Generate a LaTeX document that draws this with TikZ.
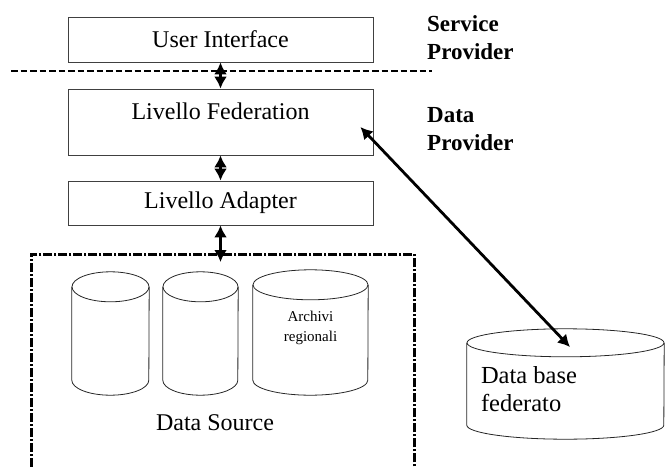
\documentclass[tikz,border=0pt]{standalone}
\usepackage{fontspec}
\setmainfont{Liberation Serif}
\usetikzlibrary{arrows.meta}
\usetikzlibrary{calc}

\newcommand{\drum}[6]{%
	\node[minimum width=#4pt, minimum height=#5pt, inner sep=0pt] (#1) at (#2,#3) {};
	\draw[drumline] ($(#1.north)+(0,#6)$) ellipse [x radius=0.5*#4pt, y radius=#6pt];
	\draw[drumline] ($(#1.north west)+(0,#6)$) -- ($(#1.south west)+(0,-#6)$) arc[start angle=180, end angle=360, x radius=0.5*#4pt, y radius=#6pt] -- ($(#1.north east)+(0,#6)$);
}

\begin{document}
\begin{tikzpicture}[x=1pt,y=-1pt,
	layer/.style={draw=black!75, line width=0.8pt, minimum width=305pt, inner sep=0pt, font=\fontsize{24}{28}\selectfont},
	link/.style={{Latex[length=12pt,width=13pt]}-{Latex[length=12pt,width=13pt]}, line width=2.8pt},
	drumline/.style={draw=black!85, line width=0.8pt},
	side/.style={anchor=west, align=left, inner sep=0pt, font=\fontsize{23}{28}\selectfont\bfseries},
	dsbox/.style={draw, line width=2.6pt, dash pattern=on 9pt off 2pt on 2pt off 2pt}]
		\useasboundingbox (0,0) rectangle (666,468);
		\clip (0,0) rectangle (666,468);
		\node[layer, minimum height=45pt] (ui) at (220.5,39.5) {User Interface};
		\node[layer, minimum height=66pt, text depth=22pt] (fed) at (220.5,122) {Livello Federation};
		\node[layer, minimum height=44pt] (adapter) at (220.5,203) {Livello Adapter};
		\draw[line width=2pt, dash pattern=on 6.5pt off 3pt] (11,71) -- (432,71);
		\node[side] (sprov) at (427,38) {Service\\Provider};
		\node[side] (dprov) at (427,129) {Data\\Provider};
		\node[dsbox, minimum width=383pt, minimum height=260pt, anchor=north west] (ds) at (30,253) {};
		\drum{ds1}{110.5}{333.5}{77}{123}{15}
		\drum{ds2}{200.5}{333.5}{75}{123}{15}
		\drum{archivi}{310.5}{332.5}{115}{125}{15}
		\node[align=center, font=\fontsize{15}{20}\selectfont] (archivilabel) at ($(archivi)+(0,-5)$) {Archivi\\regionali};
		\node[font=\fontsize{24}{28}\selectfont] (dslabel) at (215,423) {Data Source};
		\drum{fedb}{565.5}{384}{197}{110}{14}
		\node[anchor=west, align=left, inner sep=0pt, font=\fontsize{24.5}{28}\selectfont] (fedblabel) at ($(fedb.west)+(14,5)$) {Data base\\federato};
		\draw[link] (ui.south) -- (fed.north);
		\draw[link] (fed.south) -- (adapter.north);
		\draw[link] (adapter.south) -- ($(adapter.south |- ds.north)+(0,9)$);
		\draw[link] ($(fed.east)+(-13,5)$) -- ($(fedb.center)+(4.5,-37)$);
	\end{tikzpicture}
\end{document}
